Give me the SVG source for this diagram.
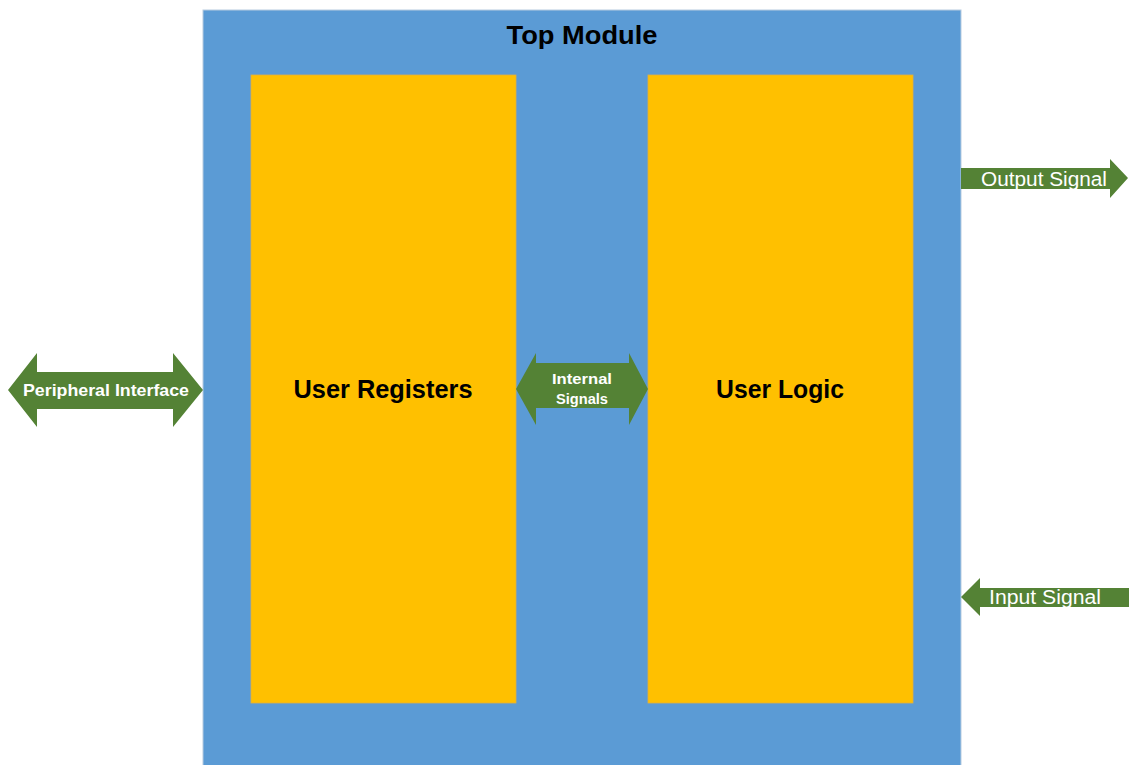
<svg xmlns="http://www.w3.org/2000/svg" width="1129" height="765" viewBox="0 0 1129 765">
<style>
.blk{font-family:"Liberation Sans",Arial,sans-serif;font-weight:bold;fill:#000;text-anchor:middle}
.wt{font-family:"Liberation Sans",Arial,sans-serif;fill:#fff;text-anchor:middle}
.arrow{fill:#548235}
.yel{fill:#FFC000;stroke:#E0B040;stroke-width:0.8}
</style>
<rect width="1129" height="765" fill="#fff"/>
<g id="top-module">
<rect x="203" y="10" width="758" height="760" fill="#5B9BD5" stroke="#B8CCE0" stroke-width="1"/>
<text class="blk" x="582" y="44" font-size="26" textLength="151" lengthAdjust="spacingAndGlyphs">Top Module</text>
</g>
<g id="user-registers">
<rect class="yel" x="251" y="75" width="265" height="628"/>
<text class="blk" x="383" y="398" font-size="26" textLength="179" lengthAdjust="spacingAndGlyphs">User Registers</text>
</g>
<g id="user-logic">
<rect class="yel" x="648" y="75" width="265" height="628"/>
<text class="blk" x="780" y="398" font-size="26" textLength="128" lengthAdjust="spacingAndGlyphs">User Logic</text>
</g>
<g id="connectors">
<g id="peripheral-interface">
<polygon class="arrow" points="8,390 37,353 37,372 173,372 173,353 203,390 173,427 173,409 37,409 37,427"/>
<text class="wt" x="106" y="396" font-size="17" font-weight="bold" textLength="166" lengthAdjust="spacingAndGlyphs">Peripheral Interface</text>
</g>
<g id="internal-signals">
<polygon class="arrow" points="516,389 536,353 536,363 629,363 629,353 648,389 629,425 629,408 536,408 536,425"/>
<text class="wt" x="582" y="384" font-size="14" font-weight="bold" textLength="60" lengthAdjust="spacingAndGlyphs">Internal</text>
<text class="wt" x="582" y="404" font-size="14" font-weight="bold" textLength="52" lengthAdjust="spacingAndGlyphs">Signals</text>
</g>
<g id="output-signal">
<polygon class="arrow" points="961,168 1110,168 1110,159 1128,178 1110,198 1110,189 961,189"/>
<text class="wt" x="1044" y="186" font-size="20" textLength="126" lengthAdjust="spacingAndGlyphs">Output Signal</text>
</g>
<g id="input-signal">
<polygon class="arrow" points="961,597 980,578 980,588 1129,588 1129,607 980,607 980,616"/>
<text class="wt" x="1045" y="604" font-size="20" textLength="112" lengthAdjust="spacingAndGlyphs">Input Signal</text>
</g>
</g>
</svg>
